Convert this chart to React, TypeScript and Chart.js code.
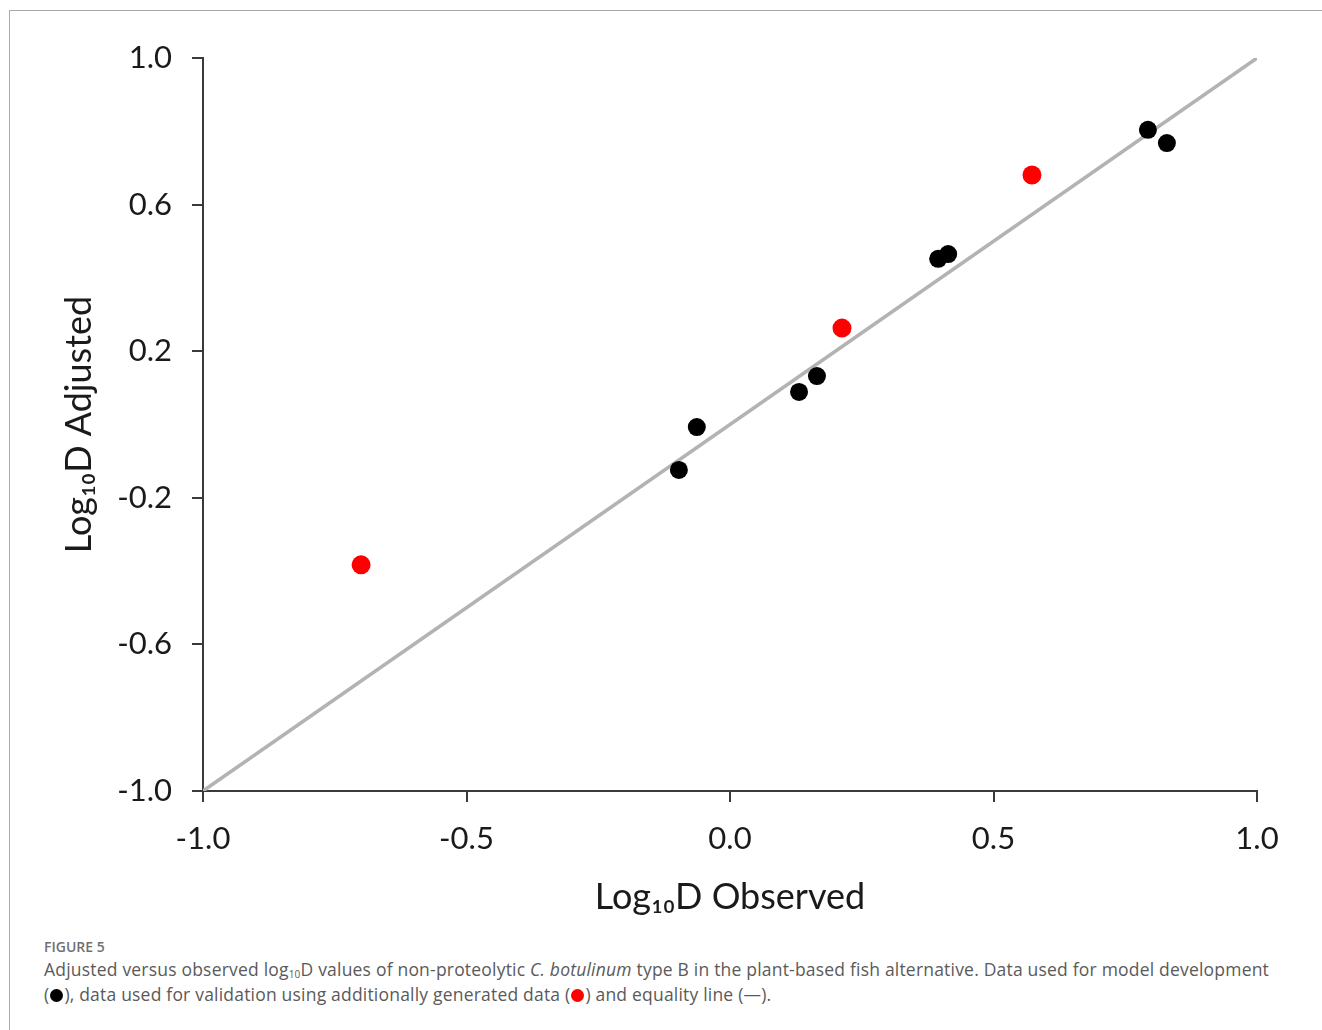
import React, { useEffect, useRef } from "react";
import { Chart, registerables } from "chart.js";

Chart.register(...registerables);

const devX = [-0.097, -0.063, 0.131, 0.165, 0.395, 0.414, 0.793, 0.829];
const devY = [-0.124, -0.007, 0.089, 0.132, 0.452, 0.465, 0.804, 0.768];
const valX = [-0.7, 0.2125, 0.573];
const valY = [-0.383, 0.263, 0.681];
const lineX = [-1, 1];
const lineY = [-1, 1];
const xTitle = "Log₁₀D Observed";
const yTitle = "Log₁₀D Adjusted";

const FONT = "Lato, 'Open Sans', sans-serif";
const CAP_FONT = "'Open Sans', Lato, sans-serif";

const dot = (color: string) => (
  <span
    style={{
      display: "inline-block",
      width: 13,
      height: 13,
      borderRadius: "50%",
      background: color,
      verticalAlign: "-1px",
      margin: "0 1px",
    }}
  />
);

export default function App() {
  const ref = useRef<HTMLCanvasElement>(null);
  useEffect(() => {
    if (!ref.current) return;
    const chart = new Chart(ref.current, {
      type: "scatter",
      data: {
        datasets: [
          {
            label: "Model development",
            data: devX.map((x, i) => ({ x, y: devY[i] })),
            backgroundColor: "#000000",
            borderColor: "#000000",
            pointRadius: 9,
            pointBorderWidth: 0,
            order: 1,
          },
          {
            label: "Validation",
            data: valX.map((x, i) => ({ x, y: valY[i] })),
            backgroundColor: "#ff0000",
            borderColor: "#ff0000",
            pointRadius: 9.5,
            pointBorderWidth: 0,
            order: 1,
          },
          {
            type: "line",
            label: "Equality line",
            data: lineX.map((x, i) => ({ x, y: lineY[i] })),
            borderColor: "#b3b3b3",
            borderWidth: 3.5,
            pointRadius: 0,
            fill: false,
            order: 3,
          } as any,
        ],
      },
      options: {
        animation: false,
        responsive: false,
        layout: { padding: { left: 0, top: 58, right: 65, bottom: 0 } },
        plugins: { legend: { display: false }, tooltip: { enabled: false } },
        scales: {
          x: {
            type: "linear",
            min: -1,
            max: 1,
            border: { color: "#3a3a3a", width: 2 },
            grid: { drawOnChartArea: false, tickLength: 11, color: "#3a3a3a", lineWidth: 2 },
            ticks: {
              stepSize: 0.5,
              padding: 18,
              color: "#1a1a1a",
              font: { family: FONT, size: 31 },
              callback: (v: any) => Number(v).toFixed(1),
            },
            title: {
              display: true,
              text: xTitle,
              color: "#1a1a1a",
              font: { family: FONT, size: 36 },
              padding: { top: 0, bottom: 11 },
            },
            afterFit: (s: any) => {
              s.height = 139;
            },
          },
          y: {
            type: "linear",
            min: -1,
            max: 1,
            border: { color: "#3a3a3a", width: 2 },
            grid: { drawOnChartArea: false, tickLength: 11, color: "#3a3a3a", lineWidth: 2 },
            ticks: {
              stepSize: 0.4,
              padding: 20,
              color: "#1a1a1a",
              font: { family: FONT, size: 31 },
              callback: (v: any) => Number(v).toFixed(1),
            },
            title: {
              display: true,
              text: yTitle,
              color: "#1a1a1a",
              font: { family: FONT, size: 36 },
              padding: { top: 58, bottom: 0 },
            },
            afterFit: (s: any) => {
              s.width = 203;
            },
          },
        },
      },
    });
    return () => chart.destroy();
  }, []);

  return (
    <div style={{ position: "fixed", inset: 0, background: "#fff", overflow: "hidden" }}>
      <div
        style={{
          position: "absolute",
          left: 9,
          top: 10,
          right: -10,
          bottom: -10,
          borderTop: "1px solid #a8a8a8",
          borderLeft: "1px solid #a8a8a8",
        }}
      />
      <canvas
        ref={ref}
        width={1322}
        height={930}
        style={{ position: "absolute", left: 0, top: 0, width: 1322, height: 930 }}
      />
      <div
        style={{
          position: "absolute",
          left: 44,
          top: 938,
          fontFamily: CAP_FONT,
          color: "#5a5a5a",
          whiteSpace: "nowrap",
        }}
      >
        <div style={{ fontSize: 14, fontWeight: 600, color: "#707070", lineHeight: "17px" }}>
          FIGURE 5
        </div>
        <div style={{ fontSize: 17.5, lineHeight: "25px", marginTop: 2, letterSpacing: "0.2px" }}>
          Adjusted versus observed log
          <sub style={{ fontSize: 10, lineHeight: 0, verticalAlign: "-2px" }}>10</sub>D values of non-proteolytic{" "}
          <i>C. botulinum</i> type B in the plant-based fish alternative. Data used for model development
          <br />({dot("#000")}), data used for validation using additionally generated data ({dot("#ff0000")}) and
          equality line (—).
        </div>
      </div>
    </div>
  );
}
